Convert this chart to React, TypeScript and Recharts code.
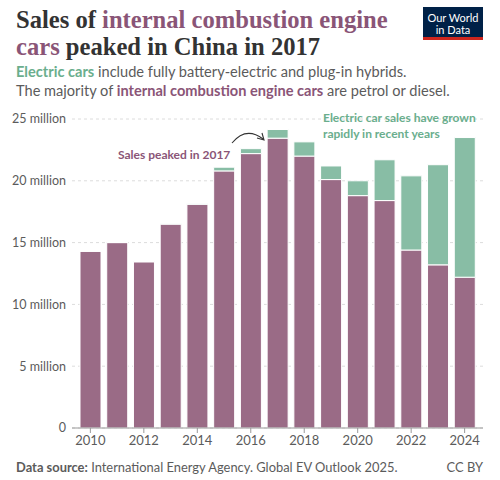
import { BarChart, Bar, XAxis, YAxis, CartesianGrid } from 'recharts';

const YEARS = ['2010', '2011', '2012', '2013', '2014', '2015', '2016', '2017', '2018', '2019', '2020', '2021', '2022', '2023', '2024'];
// million cars
const ICE_SALES = [14.3, 15.0, 13.45, 16.5, 18.1, 20.8, 22.2, 23.45, 22.0, 20.1, 18.8, 18.4, 14.4, 13.2, 12.2];
const EV_SALES = [0.01, 0.01, 0.01, 0.02, 0.07, 0.3, 0.4, 0.7, 1.15, 1.1, 1.2, 3.3, 6.0, 8.1, 11.3];
const Y_TICKS = [0, 5, 10, 15, 20, 25];

const PURPLE = '#9a6b86';
const PURPLE_TEXT = '#8a5577';
const GREEN = '#88bda5';
const GREEN_TEXT = '#6aae8d';
const GRAY = '#5b5b5b';
const SANS = 'Lato, "Noto Sans", sans-serif';

const data = YEARS.map((x, i) => ({ x, ice: ICE_SALES[i], ev: EV_SALES[i] }));

function yLabel(v: number) {
  return v === 0 ? '0' : `${v} million`;
}

export default function App() {
  return (
    <div style={{ position: 'absolute', left: 0, top: 0, width: 500, height: 480, background: '#fff', fontFamily: SANS, overflow: 'hidden' }}>
      <div style={{ position: 'absolute', left: 16, top: 6, fontFamily: '"Liberation Serif", serif', fontWeight: 700, fontSize: 24.6, lineHeight: '27px', color: '#333' }}>
        Sales of <span style={{ color: PURPLE_TEXT }}>internal combustion engine</span>
        <br />
        <span style={{ color: PURPLE_TEXT }}>cars</span> peaked in China in 2017
      </div>
      <div style={{ position: 'absolute', left: 423, top: 7, width: 60, height: 33, background: '#002147', borderBottom: '3px solid #ce261e', boxSizing: 'border-box', color: '#fff', fontSize: 11, lineHeight: '12px', textAlign: 'center', paddingTop: 5 }}>
        Our World<br />in Data
      </div>
      <div style={{ position: 'absolute', left: 16, top: 62, fontSize: 14.6, lineHeight: '19px', color: GRAY }}>
        <span style={{ color: GREEN_TEXT, fontWeight: 700 }}>Electric cars</span> include fully battery-electric and plug-in hybrids.
        <br />
        The majority of <span style={{ color: PURPLE_TEXT, fontWeight: 700 }}>internal combustion engine cars</span> are petrol or diesel.
      </div>

      <div style={{ position: 'absolute', left: 0, top: 0 }}>
        <BarChart width={500} height={480} data={data} margin={{ top: 119, right: 17, left: 0, bottom: 22 }} barCategoryGap={3}>
          <CartesianGrid vertical={false} strokeDasharray="3 3" stroke="#dcdcdc" />
          <XAxis
            dataKey="x"
            interval={1}
            padding={{ left: 5, right: 5 }}
            height={30}
            tickSize={5}
            tickMargin={3}
            axisLine={{ stroke: '#999' }}
            tickLine={{ stroke: '#999' }}
            tick={{ fontSize: 13, fill: GRAY, fontFamily: SANS }}
          />
          <YAxis
            width={72}
            domain={[0, 25]}
            ticks={Y_TICKS}
            tickFormatter={yLabel}
            axisLine={false}
            tickLine={false}
            tickSize={0}
            tickMargin={6}
            tick={{ fontSize: 12.5, fill: GRAY, fontFamily: SANS }}
          />
          <Bar dataKey="ice" stackId="a" fill={PURPLE} stroke="#fff" strokeWidth={1} isAnimationActive={false} />
          <Bar dataKey="ev" stackId="a" fill={GREEN} stroke="#fff" strokeWidth={1} isAnimationActive={false} />
        </BarChart>
      </div>

      <div style={{ position: 'absolute', left: 118, top: 147, fontSize: 12, fontWeight: 700, color: PURPLE_TEXT, whiteSpace: 'nowrap' }}>
        Sales peaked in 2017
      </div>
      <svg style={{ position: 'absolute', left: 0, top: 0 }} width={500} height={480}>
        <path d="M232,143 Q246,126 263,139" fill="none" stroke="#333" strokeWidth={1.1} />
        <path d="M257,138 L264,140 L262,133" fill="none" stroke="#333" strokeWidth={1.1} />
      </svg>
      <div style={{ position: 'absolute', left: 323, top: 110, fontSize: 12, lineHeight: '16px', fontWeight: 700, color: GREEN_TEXT, whiteSpace: 'nowrap' }}>
        Electric car sales have grown
        <br />
        rapidly in recent years
      </div>

      <div style={{ position: 'absolute', left: 16, top: 459, fontSize: 12.9, color: GRAY, whiteSpace: 'nowrap' }}>
        <b>Data source:</b> International Energy Agency. Global EV Outlook 2025.
      </div>
      <div style={{ position: 'absolute', right: 17, top: 459, fontSize: 12.9, color: GRAY }}>CC BY</div>
    </div>
  );
}
